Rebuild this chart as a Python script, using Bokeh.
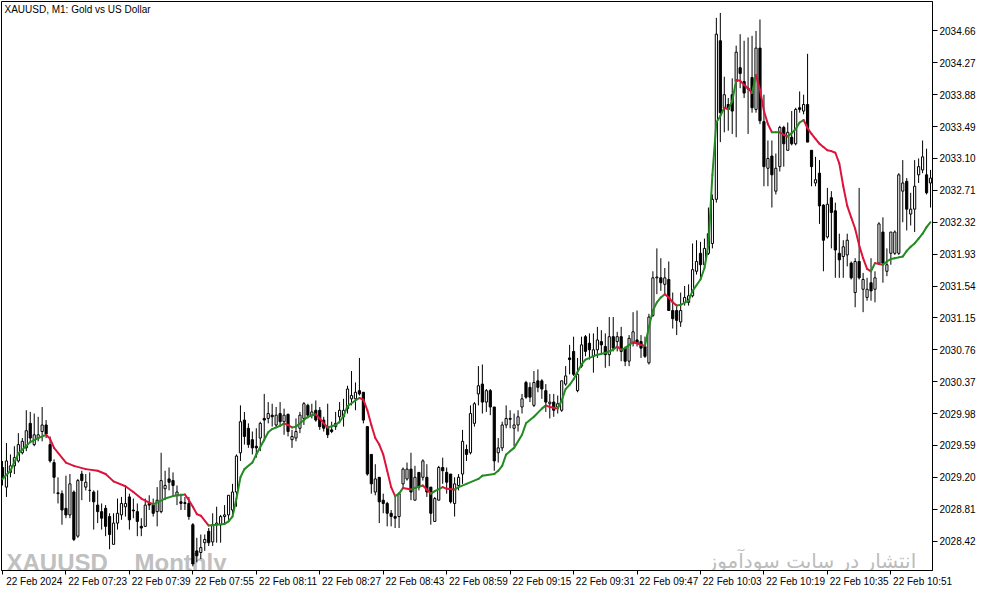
from bokeh.plotting import figure
from bokeh.models import ColumnDataSource, FixedTicker, Label, NumeralTickFormatter
from bokeh.embed import file_html
from bokeh.resources import INLINE

# ---------------- data ----------------
time_labels = ["22 Feb 2024", "22 Feb 07:23", "22 Feb 07:39", "22 Feb 07:55", "22 Feb 08:11",
               "22 Feb 08:27", "22 Feb 08:43", "22 Feb 08:59", "22 Feb 09:15", "22 Feb 09:31",
               "22 Feb 09:47", "22 Feb 10:03", "22 Feb 10:19", "22 Feb 10:35", "22 Feb 10:51"]

price_ticks = [2034.66, 2034.27, 2033.88, 2033.49, 2033.10, 2032.71, 2032.32, 2031.93, 2031.54,
               2031.15, 2030.76, 2030.37, 2029.98, 2029.59, 2029.20, 2028.81, 2028.42]

opens = [
    2029.32, 2029.08, 2029.26, 2029.34, 2029.40, 2029.50, 2029.56, 2029.86, 2029.60, 2029.68,
    2029.76, 2029.84, 2029.60, 2029.38, 2029.01, 2029.00, 2028.82, 2028.74, 2029.02, 2028.48,
    2029.24, 2029.08, 2029.04, 2029.02, 2028.86, 2028.78, 2028.82, 2028.72, 2028.38, 2028.64,
    2028.74, 2028.84, 2028.96, 2028.80, 2028.78, 2028.60, 2028.60, 2028.88, 2028.86, 2028.78,
    2028.78, 2029.06, 2029.18, 2029.16, 2028.98, 2028.90, 2028.89, 2028.88, 2028.62, 2028.30,
    2028.28, 2028.40, 2028.54, 2028.41, 2028.62, 2028.62, 2028.72, 2028.74, 2028.80, 2029.02,
    2029.50, 2029.90, 2029.80, 2029.66, 2029.58, 2029.68, 2029.92, 2029.92, 2029.96, 2029.84,
    2029.98, 2029.88, 2029.97, 2029.66, 2029.68, 2029.80, 2029.92, 2030.08, 2029.96, 2030.02,
    2030.02, 2029.90, 2029.82, 2029.78, 2029.82, 2029.94, 2029.94, 2030.04, 2030.16, 2030.16,
    2030.26, 2030.24, 2029.82, 2029.48, 2029.02, 2029.20, 2028.92, 2028.88, 2028.76, 2028.72,
    2028.72, 2029.12, 2029.18, 2029.30, 2028.92, 2029.26, 2029.20, 2029.20, 2029.08, 2028.66,
    2028.92, 2029.32, 2029.26, 2029.24, 2028.88, 2029.10, 2029.24, 2029.54, 2029.50, 2029.86,
    2030.22, 2030.34, 2030.12, 2030.26, 2030.06, 2029.50, 2029.56, 2029.84, 2029.92, 2029.80,
    2029.84, 2030.06, 2030.36, 2030.30, 2030.08, 2030.38, 2030.38, 2030.26, 2030.10, 2030.12,
    2030.06, 2030.02, 2030.34, 2030.66, 2030.74, 2030.26, 2030.56, 2030.92, 2030.84, 2030.68,
    2030.76, 2030.86, 2030.80, 2030.70, 2030.92, 2030.86, 2030.92, 2030.78, 2030.62, 2030.84,
    2030.88, 2030.86, 2030.80, 2030.60, 2031.18, 2031.64, 2031.64, 2031.56, 2031.62, 2031.24,
    2031.24, 2031.10, 2031.34, 2031.34, 2031.42, 2031.72, 2031.94, 2031.80, 2031.94, 2032.06,
    2032.60, 2034.54, 2033.72, 2033.76, 2033.88, 2034.04, 2034.21, 2034.04, 2033.96, 2034.09,
    2033.70, 2034.45, 2033.55, 2032.98, 2033.13, 2032.70, 2033.00, 2033.48, 2033.20, 2033.36,
    2033.28, 2033.72, 2033.68, 2033.76, 2033.20, 2032.80, 2032.92, 2032.53, 2032.14, 2032.62,
    2032.46, 2031.94, 2031.90, 2031.92, 2031.82, 2031.46, 2031.84, 2031.50, 2031.40, 2031.58,
    2031.50, 2031.82, 2032.20, 2031.72, 2031.94, 2031.94, 2031.94, 2032.70, 2032.82, 2032.42,
    2032.48, 2032.90, 2032.96, 2032.90, 2032.80]

highs = [
    2029.40, 2029.62, 2029.48, 2029.58, 2029.74, 2029.68, 2030.02, 2030.00, 2029.98, 2029.94,
    2030.06, 2029.90, 2029.70, 2029.42, 2029.20, 2029.04, 2029.22, 2029.24, 2029.04, 2029.18,
    2029.28, 2029.24, 2029.26, 2029.04, 2029.04, 2028.88, 2028.86, 2028.76, 2028.76, 2028.94,
    2028.96, 2029.08, 2029.00, 2028.94, 2028.88, 2028.70, 2028.94, 2028.98, 2028.94, 2029.08,
    2029.50, 2029.28, 2029.32, 2029.26, 2029.10, 2029.00, 2028.96, 2028.96, 2028.64, 2028.46,
    2028.50, 2028.50, 2028.58, 2028.76, 2028.84, 2028.74, 2028.86, 2028.98, 2029.12, 2029.48,
    2030.08, 2030.00, 2029.86, 2029.76, 2029.80, 2029.88, 2030.22, 2030.12, 2030.10, 2030.06,
    2030.12, 2030.04, 2029.98, 2029.78, 2029.92, 2030.00, 2030.12, 2030.10, 2030.10, 2030.14,
    2030.06, 2029.94, 2030.10, 2029.88, 2030.00, 2030.12, 2030.16, 2030.32, 2030.50, 2030.36,
    2030.66, 2030.24, 2029.82, 2029.48, 2029.36, 2029.20, 2029.00, 2028.90, 2028.80, 2028.96,
    2029.02, 2029.32, 2029.38, 2029.50, 2029.34, 2029.26, 2029.42, 2029.36, 2029.08, 2028.96,
    2029.34, 2029.44, 2029.32, 2029.24, 2029.20, 2029.24, 2029.78, 2029.60, 2030.08, 2030.12,
    2030.56, 2030.58, 2030.28, 2030.28, 2030.06, 2029.68, 2029.88, 2030.08, 2030.02, 2029.98,
    2030.02, 2030.22, 2030.38, 2030.36, 2030.50, 2030.52, 2030.40, 2030.34, 2030.22, 2030.22,
    2030.20, 2030.38, 2030.56, 2030.82, 2030.92, 2030.66, 2030.92, 2030.94, 2030.96, 2030.96,
    2031.04, 2031.00, 2030.96, 2031.16, 2031.16, 2030.98, 2031.04, 2030.80, 2030.94, 2031.22,
    2031.24, 2030.94, 2030.92, 2031.20, 2031.72, 2032.00, 2031.88, 2031.76, 2031.84, 2031.46,
    2031.32, 2031.46, 2031.54, 2031.56, 2032.06, 2032.10, 2032.08, 2032.12, 2032.50, 2032.66,
    2034.82, 2034.88, 2034.10, 2033.84, 2034.08, 2034.48, 2034.62, 2034.54, 2034.58, 2034.60,
    2034.66, 2034.80, 2033.88, 2033.32, 2033.32, 2033.16, 2033.50, 2033.50, 2033.54, 2033.68,
    2033.72, 2033.92, 2033.88, 2034.38, 2033.20, 2033.12, 2033.08, 2032.54, 2032.74, 2032.70,
    2032.56, 2032.18, 2032.10, 2032.18, 2031.84, 2031.88, 2032.74, 2031.70, 2031.64, 2031.88,
    2031.72, 2032.32, 2032.38, 2032.00, 2032.20, 2032.22, 2032.92, 2033.08, 2032.86, 2032.68,
    2033.08, 2033.10, 2033.32, 2033.22, 2032.96]

lows = [
    2029.10, 2028.96, 2029.20, 2029.24, 2029.38, 2029.48, 2029.52, 2029.62, 2029.58, 2029.64,
    2029.64, 2029.68, 2029.38, 2029.00, 2028.88, 2028.62, 2028.70, 2028.70, 2028.42, 2028.46,
    2028.92, 2029.04, 2028.90, 2028.56, 2028.64, 2028.56, 2028.48, 2028.32, 2028.38, 2028.56,
    2028.68, 2028.72, 2028.56, 2028.70, 2028.48, 2028.48, 2028.60, 2028.80, 2028.72, 2028.60,
    2028.76, 2028.92, 2029.04, 2028.96, 2028.86, 2028.80, 2028.80, 2028.68, 2028.11, 2028.16,
    2028.20, 2028.30, 2028.36, 2028.36, 2028.40, 2028.40, 2028.62, 2028.68, 2028.72, 2028.84,
    2029.40, 2029.60, 2029.56, 2029.48, 2029.44, 2029.52, 2029.64, 2029.86, 2029.82, 2029.80,
    2029.84, 2029.72, 2029.70, 2029.56, 2029.64, 2029.74, 2029.84, 2029.92, 2029.92, 2029.88,
    2029.78, 2029.76, 2029.68, 2029.74, 2029.78, 2029.86, 2029.82, 2029.98, 2030.08, 2030.02,
    2030.20, 2029.86, 2029.22, 2029.00, 2028.98, 2028.64, 2028.76, 2028.60, 2028.60, 2028.58,
    2028.58, 2029.08, 2029.16, 2028.92, 2028.92, 2029.04, 2029.16, 2028.96, 2028.62, 2028.66,
    2028.92, 2029.12, 2029.00, 2028.88, 2028.72, 2029.04, 2029.12, 2029.40, 2029.48, 2029.82,
    2030.08, 2029.98, 2030.00, 2029.96, 2029.28, 2029.38, 2029.52, 2029.80, 2029.80, 2029.58,
    2029.76, 2029.98, 2030.16, 2030.12, 2030.06, 2030.24, 2030.16, 2030.00, 2029.92, 2029.94,
    2029.98, 2030.00, 2030.32, 2030.46, 2030.44, 2030.24, 2030.54, 2030.68, 2030.64, 2030.48,
    2030.66, 2030.70, 2030.54, 2030.56, 2030.74, 2030.74, 2030.62, 2030.56, 2030.56, 2030.80,
    2030.80, 2030.66, 2030.66, 2030.58, 2031.16, 2031.44, 2031.48, 2031.44, 2031.24, 2031.02,
    2030.94, 2031.04, 2031.30, 2031.30, 2031.40, 2031.68, 2031.64, 2031.78, 2031.92, 2032.00,
    2032.56, 2033.30, 2033.42, 2033.44, 2033.40, 2033.36, 2033.96, 2033.84, 2033.40, 2033.66,
    2033.66, 2033.52, 2032.76, 2032.76, 2032.50, 2032.66, 2032.94, 2033.00, 2033.20, 2033.26,
    2033.26, 2033.66, 2033.64, 2033.30, 2032.76, 2032.76, 2032.30, 2031.72, 2032.12, 2032.00,
    2031.64, 2031.64, 2031.64, 2031.78, 2031.62, 2031.28, 2031.62, 2031.22, 2031.36, 2031.36,
    2031.34, 2031.80, 2031.58, 2031.66, 2031.80, 2031.92, 2031.92, 2032.32, 2032.22, 2032.28,
    2032.20, 2032.80, 2032.92, 2032.66, 2032.50]

closes = [
    2029.20, 2029.40, 2029.34, 2029.44, 2029.60, 2029.64, 2029.77, 2029.68, 2029.72, 2029.72,
    2029.84, 2029.73, 2029.40, 2029.20, 2029.00, 2028.80, 2028.74, 2029.12, 2028.44, 2029.16,
    2029.16, 2029.14, 2029.04, 2028.90, 2028.78, 2028.70, 2028.60, 2028.50, 2028.64, 2028.76,
    2028.88, 2028.88, 2028.68, 2028.79, 2028.66, 2028.58, 2028.86, 2028.86, 2028.76, 2028.92,
    2029.16, 2029.10, 2029.14, 2029.10, 2029.02, 2028.88, 2028.88, 2028.72, 2028.14, 2028.24,
    2028.34, 2028.44, 2028.40, 2028.62, 2028.64, 2028.72, 2028.74, 2028.98, 2029.02, 2029.46,
    2029.88, 2029.70, 2029.60, 2029.56, 2029.56, 2029.86, 2029.90, 2029.98, 2029.94, 2029.96,
    2029.88, 2029.96, 2029.76, 2029.70, 2029.76, 2029.96, 2030.10, 2029.96, 2030.00, 2029.90,
    2029.82, 2029.80, 2029.72, 2029.76, 2029.86, 2030.02, 2030.02, 2030.28, 2030.20, 2030.24,
    2030.22, 2029.90, 2029.24, 2029.12, 2029.18, 2028.90, 2028.88, 2028.76, 2028.72, 2028.70,
    2029.00, 2029.30, 2029.30, 2029.02, 2029.20, 2029.08, 2029.40, 2029.02, 2028.76, 2028.94,
    2029.32, 2029.28, 2029.14, 2028.90, 2029.12, 2029.20, 2029.64, 2029.48, 2029.98, 2030.10,
    2030.32, 2030.12, 2030.26, 2030.06, 2029.40, 2029.56, 2029.84, 2029.92, 2029.91, 2029.84,
    2029.94, 2030.16, 2030.18, 2030.18, 2030.36, 2030.30, 2030.28, 2030.12, 2030.12, 2030.02,
    2030.10, 2030.38, 2030.44, 2030.64, 2030.46, 2030.46, 2030.82, 2030.74, 2030.76, 2030.76,
    2030.88, 2030.82, 2030.70, 2030.92, 2030.78, 2030.92, 2030.74, 2030.62, 2030.90, 2030.98,
    2030.84, 2030.78, 2030.68, 2031.16, 2031.64, 2031.65, 2031.58, 2031.64, 2031.24, 2031.14,
    2031.12, 2031.24, 2031.40, 2031.42, 2031.74, 2031.84, 2031.80, 2032.00, 2032.18, 2032.60,
    2034.62, 2033.66, 2033.88, 2033.70, 2033.68, 2034.40, 2034.14, 2033.90, 2033.95, 2033.72,
    2034.45, 2033.56, 2033.00, 2033.10, 2032.90, 2032.98, 2033.48, 2033.28, 2033.42, 2033.28,
    2033.70, 2033.70, 2033.76, 2033.30, 2033.00, 2032.84, 2032.52, 2032.10, 2032.54, 2032.44,
    2031.98, 2031.86, 2032.02, 2032.10, 2031.64, 2031.84, 2031.64, 2031.62, 2031.50, 2031.48,
    2031.64, 2032.30, 2031.82, 2031.80, 2032.20, 2032.20, 2032.90, 2032.80, 2032.48, 2032.48,
    2032.76, 2033.00, 2033.12, 2032.68, 2032.86]

# moving-average line, read at these bar indices
ma_bars = [0, 2, 4, 7, 9, 11, 12, 13, 16, 18, 21, 24, 26, 28, 31, 33, 35, 37, 38, 41,
           43, 46, 47, 48, 49, 50, 52, 54, 56, 57, 58, 59, 60, 61, 63, 64, 66, 67, 68, 70,
           71, 72, 73, 74, 76, 77, 79, 80, 81, 82, 84, 85, 86, 87, 89, 90, 91, 92, 93, 94,
           95, 96, 97, 98, 99, 100, 101, 103, 104, 106, 107, 108, 109, 111, 112, 114, 115, 117, 120, 121,
           124, 125, 126, 127, 129, 131, 132, 134, 136, 137, 138, 139, 140, 141, 142, 143, 144, 146, 147, 150,
           152, 154, 155, 156, 157, 158, 159, 160, 161, 162, 163, 164, 165, 166, 167, 168, 169, 170, 171, 173,
           174, 176, 177, 178, 179, 180, 181, 182, 183, 184, 185, 186, 187, 188, 189, 190, 191, 192, 193, 194,
           195, 196, 197, 198, 199, 200, 201, 202, 203, 204, 205, 206, 207, 208, 209, 210, 211, 212, 213, 214,
           215, 216, 217, 218, 219, 220, 221, 222, 223, 224, 225, 226, 227, 228, 229, 230, 231, 232, 233, 234]
ma_vals = [2029.18, 2029.28, 2029.49, 2029.63, 2029.68, 2029.72, 2029.67, 2029.56, 2029.38, 2029.34,
           2029.30, 2029.28, 2029.24, 2029.15, 2029.09, 2029.02, 2028.94, 2028.89, 2028.87, 2028.94,
           2028.97, 2028.99, 2028.92, 2028.84, 2028.75, 2028.73, 2028.61, 2028.62, 2028.63, 2028.66,
           2028.72, 2028.94, 2029.20, 2029.30, 2029.38, 2029.48, 2029.66, 2029.75, 2029.79, 2029.83,
           2029.86, 2029.84, 2029.81, 2029.82, 2029.90, 2029.94, 2029.97, 2029.92, 2029.86, 2029.81,
           2029.84, 2029.88, 2029.95, 2030.07, 2030.14, 2030.17, 2030.15, 2030.02, 2029.84, 2029.68,
           2029.60, 2029.48, 2029.28, 2029.08, 2028.97, 2029.00, 2029.07, 2029.05, 2029.07, 2029.10,
           2029.05, 2029.00, 2029.03, 2029.08, 2029.06, 2029.05, 2029.08, 2029.12, 2029.18, 2029.22,
           2029.24, 2029.28, 2029.34, 2029.48, 2029.56, 2029.72, 2029.86, 2029.94, 2030.04, 2030.08,
           2030.06, 2030.05, 2030.04, 2030.14, 2030.28, 2030.33, 2030.40, 2030.58, 2030.64, 2030.70,
           2030.72, 2030.76, 2030.80, 2030.76, 2030.78, 2030.82, 2030.85, 2030.84, 2030.82, 2030.81,
           2031.04, 2031.24, 2031.34, 2031.40, 2031.44, 2031.40, 2031.34, 2031.30, 2031.31, 2031.36,
           2031.48, 2031.62, 2031.76, 2032.04, 2032.90, 2033.54, 2033.62, 2033.72, 2033.70, 2033.80,
           2034.06, 2034.05, 2034.00, 2033.96, 2033.90, 2034.12, 2033.94, 2033.68, 2033.52, 2033.42,
           2033.42, 2033.42, 2033.39, 2033.37, 2033.41, 2033.46, 2033.54, 2033.57, 2033.47, 2033.40,
           2033.34, 2033.28, 2033.24, 2033.20, 2033.19, 2033.17, 2033.04, 2032.76, 2032.52, 2032.38,
           2032.24, 2032.04, 2031.88, 2031.75, 2031.72, 2031.82, 2031.81, 2031.80, 2031.84, 2031.87,
           2031.88, 2031.89, 2031.90, 2031.97, 2032.02, 2032.06, 2032.12, 2032.18, 2032.26, 2032.32]

title_text = "XAUUSD, M1:  Gold vs US Dollar"
mark_left = "XAUUSD _ Monthly"
mark_right = "انتشار در سایت سودآموز"

# ---------------- build ----------------
n = len(opens)
assert len(highs) == n and len(lows) == n and len(closes) == n
assert len(ma_bars) == len(ma_vals)

GREEN = "#228b22"
RED = "#dc143c"
Y_MIN, Y_MAX = 2028.06, 2035.02
X_MIN, X_MAX = -0.25, 234.5

bars = list(range(n))
src = ColumnDataSource(dict(
    x=bars, h=highs, l=lows,
    top=[max(o, c) for o, c in zip(opens, closes)],
    bottom=[min(o, c) for o, c in zip(opens, closes)],
    fill=["white" if c >= o else "black" for o, c in zip(opens, closes)],
))

p = figure(width=978, height=589, x_range=(X_MIN, X_MAX), y_range=(Y_MIN, Y_MAX),
           y_axis_location="right", output_backend="svg", toolbar_location=None,
           min_border_left=1, min_border_top=1, min_border_right=2, min_border_bottom=0)
p.background_fill_color = "white"
p.border_fill_color = "white"
p.xgrid.visible = False
p.ygrid.visible = False
p.outline_line_color = "black"
p.outline_line_width = 1

FONT = "Liberation Sans"

# watermarks (behind the candles)
p.add_layout(Label(x=5, x_units="screen", y=Y_MIN + 0.10, y_units="data", text=mark_left,
                   text_font=FONT, text_font_style="bold", text_font_size="24px",
                   text_color="#c0c0c0", text_baseline="alphabetic", level="underlay"))
p.add_layout(Label(x=230.4, y=Y_MIN + 0.12, text=mark_right, text_font="DejaVu Sans",
                   text_font_size="20px", text_color="#bcbcbc", text_align="right",
                   text_baseline="alphabetic", level="underlay"))

# candles
p.segment(x0="x", y0="l", x1="x", y1="h", source=src, line_color="black", line_width=1)
p.vbar(x="x", width=0.55, top="top", bottom="bottom", source=src,
       fill_color="fill", line_color="black", line_width=1)

# moving average, coloured by direction
ma_src = ColumnDataSource(dict(
    x0=ma_bars[:-1], x1=ma_bars[1:], y0=ma_vals[:-1], y1=ma_vals[1:],
    color=[GREEN if b >= a else RED for a, b in zip(ma_vals[:-1], ma_vals[1:])],
))
p.segment(x0="x0", y0="y0", x1="x1", y1="y1", source=ma_src, line_color="color",
          line_width=2, line_cap="round")

# title
p.add_layout(Label(x=3, x_units="screen", y=Y_MAX - 0.03, y_units="data", text=title_text,
                   text_font=FONT, text_font_size="10px", text_color="black", text_baseline="top"))

# x axis: tick marks every 16 bars, labels start just right of each tick
tick_pos = [16 * i for i in range(len(time_labels))]
label_pos = [t + 8 for t in tick_pos]
xa = p.xaxis[0]
xa.ticker = FixedTicker(ticks=label_pos, minor_ticks=tick_pos)
xa.major_label_overrides = {lp: lab for lp, lab in zip(label_pos, time_labels)}
xa.major_tick_line_color = None
xa.major_tick_in = 0
xa.major_tick_out = 4
xa.minor_tick_line_color = "black"
xa.minor_tick_in = 0
xa.minor_tick_out = 4
xa.major_label_standoff = 1
xa.axis_line_color = "black"
xa.major_label_text_font = FONT
xa.major_label_text_font_size = "10px"
xa.major_label_text_color = "black"

# y axis on the right
ya = p.yaxis[0]
ya.ticker = FixedTicker(ticks=price_ticks)
ya.formatter = NumeralTickFormatter(format="0.00")
ya.major_tick_in = 0
ya.major_tick_out = 5
ya.minor_tick_line_color = None
ya.major_label_standoff = 2
ya.axis_line_color = "black"
ya.major_label_text_font = FONT
ya.major_label_text_font_size = "10px"
ya.major_label_text_color = "black"

open("out.html", "w").write(file_html(p, INLINE))
